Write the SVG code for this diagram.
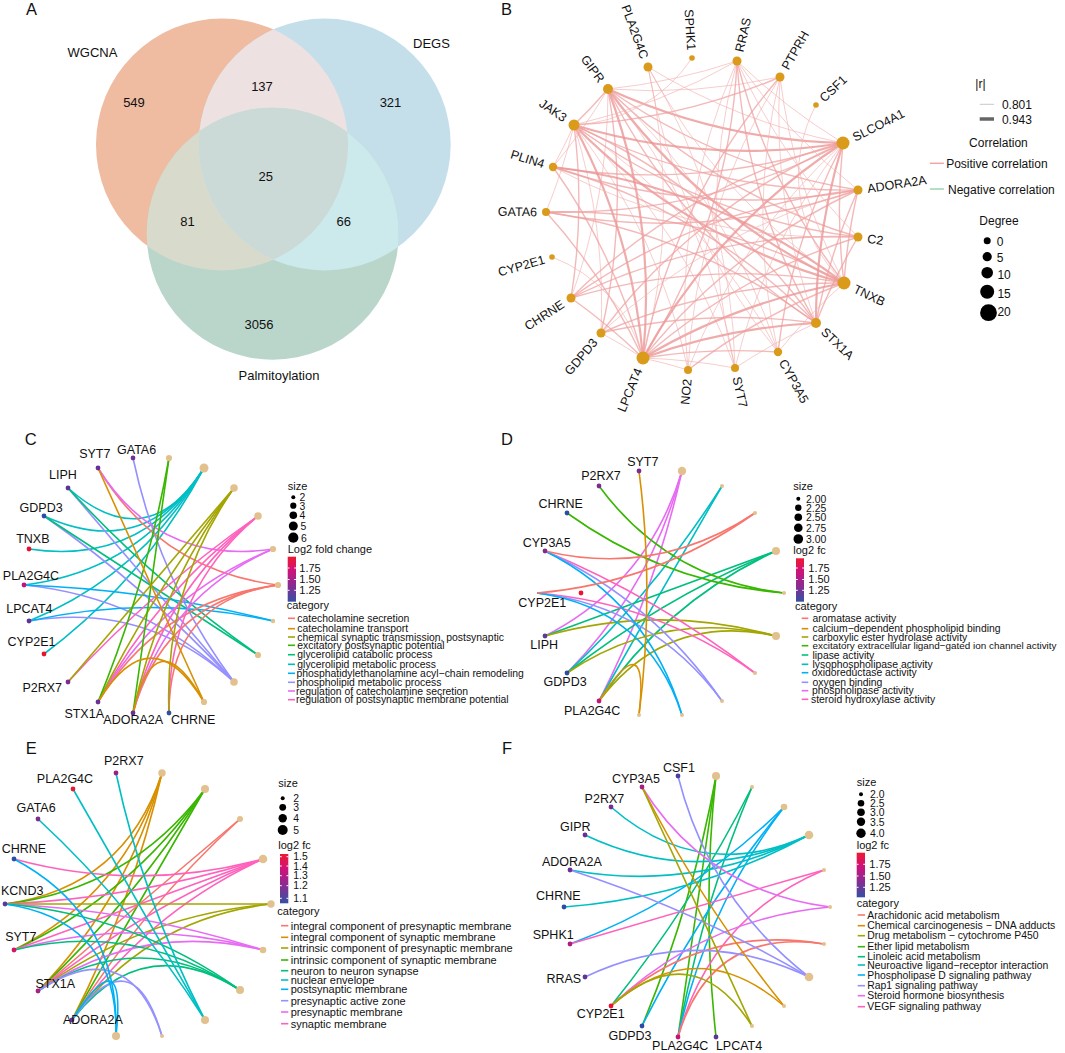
<svg xmlns="http://www.w3.org/2000/svg" width="1065" height="1053" viewBox="0 0 1065 1053">
<defs>
<style>
text{font-family:"Liberation Sans",Arial,sans-serif;fill:#111}
.pl{font-size:16.5px}
.venn{font-size:13px}
.lbl{font-size:12.5px}
.leg{font-size:11px}
.legs{font-size:10.4px}
.num{font-size:10.4px}
.lg12{font-size:12px}
.bn{fill:#DA9A1A}
.cat{fill:#E2C18F}
.b1{fill:none;stroke:#F2AFAF;stroke-width:0.9;opacity:0.7}
.b2{fill:none;stroke:#EE9E9E;stroke-width:1.4;opacity:0.72}
.b3{fill:none;stroke:#EC9494;stroke-width:2.2;opacity:0.78}
.ed path{fill:none;stroke-width:1.6}
.k1{stroke:#F8766D}.k2{stroke:#D89000}.k3{stroke:#A3A500}.k4{stroke:#39B600}.k5{stroke:#00BF7D}
.k6{stroke:#00BFC4}.k7{stroke:#00B0F6}.k8{stroke:#9590FF}.k9{stroke:#E76BF3}.k10{stroke:#FF62BC}
.dash{stroke-width:1.6}
.tick{stroke:#fff;stroke-width:1}
</style>
<linearGradient id="fc" x1="0" y1="0" x2="0" y2="1">
<stop offset="0" stop-color="#EE1A2F"/>
<stop offset="0.3" stop-color="#D0127A"/>
<stop offset="0.62" stop-color="#8E2A90"/>
<stop offset="1" stop-color="#3451A3"/>
</linearGradient>
<clipPath id="cW"><circle cx="222" cy="144.5" r="126"/></clipPath>
<clipPath id="cD"><circle cx="324.7" cy="144.5" r="126"/></clipPath>
<clipPath id="cP"><circle cx="272.7" cy="233.7" r="126"/></clipPath>
</defs>
<rect width="1065" height="1053" fill="#fff"/>

<!-- Panel A -->
<g id="panelA">
<text class="pl" x="26" y="15">A</text>
<g id="venn-WGCNA"><circle cx="222" cy="144.5" r="126" fill="#EFBBA1"/></g>
<g id="venn-DEGS"><circle cx="324.7" cy="144.5" r="126" fill="#C5DFEA"/></g>
<g id="venn-Palm"><circle cx="272.7" cy="233.7" r="126" fill="#BAD6CB"/></g>
<g clip-path="url(#cW)"><circle cx="324.7" cy="144.5" r="126" fill="#EEE1E1"/></g>
<g clip-path="url(#cW)"><circle cx="272.7" cy="233.7" r="126" fill="#D8DACB"/></g>
<g clip-path="url(#cD)"><circle cx="272.7" cy="233.7" r="126" fill="#CCE9EC"/></g>
<g clip-path="url(#cW)"><g clip-path="url(#cD)"><circle cx="272.7" cy="233.7" r="126" fill="#CBD9D7"/></g></g>
<text class="venn" x="67.6" y="56.7">WGCNA</text>
<text class="venn" x="413" y="47.7">DEGS</text>
<text class="venn" x="279" y="380" text-anchor="middle">Palmitoylation</text>
<text class="venn" x="134" y="106.7" text-anchor="middle">549</text>
<text class="venn" x="262" y="90.7" text-anchor="middle">137</text>
<text class="venn" x="390.5" y="106.7" text-anchor="middle">321</text>
<text class="venn" x="265.7" y="180.7" text-anchor="middle">25</text>
<text class="venn" x="187.6" y="226" text-anchor="middle">81</text>
<text class="venn" x="343.8" y="226" text-anchor="middle">66</text>
<text class="venn" x="259" y="329" text-anchor="middle">3056</text>
</g>

<!-- Panel B -->
<text class="pl" x="501" y="15">B</text>
<g id="B-connectors">
<path class="b3" d="M608,89 A600,600 0 0,0 843,143"/>
<path class="b2" d="M608,89 A600,600 0 0,0 858,190"/>
<path class="b2" d="M608,89 A600,600 0 0,0 858,237"/>
<path class="b3" d="M608,89 A600,600 0 0,0 844,283"/>
<path class="b2" d="M608,89 A600,600 0 0,0 816,323"/>
<path class="b1" d="M778,352 A600,600 0 0,0 608,89"/>
<path class="b3" d="M643,358 A600,600 0 0,0 608,89"/>
<path class="b2" d="M601,333 A600,600 0 0,0 608,89"/>
<path class="b1" d="M571,298 A600,600 0 0,0 608,89"/>
<path class="b1" d="M553,167 A600,600 0 0,0 608,89"/>
<path class="b2" d="M574,125 A600,600 0 0,0 608,89"/>
<path class="b1" d="M735,368 A600,600 0 0,0 608,89"/>
<path class="b1" d="M608,89 A600,600 0 0,0 737,61"/>
<path class="b1" d="M608,89 A600,600 0 0,0 780,77"/>
<path class="b3" d="M574,125 A600,600 0 0,0 843,143"/>
<path class="b2" d="M574,125 A600,600 0 0,0 858,190"/>
<path class="b2" d="M574,125 A600,600 0 0,0 858,237"/>
<path class="b3" d="M574,125 A600,600 0 0,0 844,283"/>
<path class="b2" d="M816,323 A600,600 0 0,0 574,125"/>
<path class="b3" d="M643,358 A600,600 0 0,0 574,125"/>
<path class="b1" d="M601,333 A600,600 0 0,0 574,125"/>
<path class="b2" d="M571,298 A600,600 0 0,0 574,125"/>
<path class="b1" d="M546,212 A600,600 0 0,0 574,125"/>
<path class="b1" d="M553,167 A600,600 0 0,0 574,125"/>
<path class="b1" d="M574,125 A600,600 0 0,0 737,61"/>
<path class="b2" d="M574,125 A600,600 0 0,0 780,77"/>
<path class="b1" d="M778,352 A600,600 0 0,0 574,125"/>
<path class="b1" d="M735,368 A600,600 0 0,0 574,125"/>
<path class="b1" d="M688,370 A600,600 0 0,0 574,125"/>
<path class="b3" d="M843,143 A600,600 0 0,0 643,358"/>
<path class="b2" d="M858,190 A600,600 0 0,0 643,358"/>
<path class="b2" d="M858,237 A600,600 0 0,0 643,358"/>
<path class="b3" d="M844,283 A600,600 0 0,0 643,358"/>
<path class="b3" d="M816,323 A600,600 0 0,0 643,358"/>
<path class="b2" d="M778,352 A600,600 0 0,0 643,358"/>
<path class="b1" d="M735,368 A600,600 0 0,0 643,358"/>
<path class="b1" d="M688,370 A600,600 0 0,0 643,358"/>
<path class="b1" d="M643,358 A600,600 0 0,0 601,333"/>
<path class="b2" d="M643,358 A600,600 0 0,0 571,298"/>
<path class="b2" d="M643,358 A600,600 0 0,0 546,212"/>
<path class="b2" d="M643,358 A600,600 0 0,0 553,167"/>
<path class="b2" d="M643,358 A600,600 0 0,0 737,61"/>
<path class="b2" d="M780,77 A600,600 0 0,0 643,358"/>
<path class="b1" d="M643,358 A600,600 0 0,0 648,67"/>
<path class="b2" d="M843,143 A600,600 0 0,0 844,283"/>
<path class="b3" d="M843,143 A600,600 0 0,0 816,323"/>
<path class="b2" d="M843,143 A600,600 0 0,0 778,352"/>
<path class="b1" d="M843,143 A600,600 0 0,0 688,370"/>
<path class="b2" d="M843,143 A600,600 0 0,0 601,333"/>
<path class="b2" d="M843,143 A600,600 0 0,0 571,298"/>
<path class="b2" d="M546,212 A600,600 0 0,0 843,143"/>
<path class="b2" d="M553,167 A600,600 0 0,0 843,143"/>
<path class="b1" d="M737,61 A600,600 0 0,0 843,143"/>
<path class="b1" d="M648,67 A600,600 0 0,0 843,143"/>
<path class="b1" d="M843,143 A600,600 0 0,0 735,368"/>
<path class="b2" d="M858,190 A600,600 0 0,0 844,283"/>
<path class="b2" d="M844,283 A600,600 0 0,0 688,370"/>
<path class="b2" d="M844,283 A600,600 0 0,0 601,333"/>
<path class="b2" d="M844,283 A600,600 0 0,0 571,298"/>
<path class="b2" d="M844,283 A600,600 0 0,0 546,212"/>
<path class="b3" d="M844,283 A600,600 0 0,0 553,167"/>
<path class="b2" d="M737,61 A600,600 0 0,0 844,283"/>
<path class="b1" d="M780,77 A600,600 0 0,0 844,283"/>
<path class="b1" d="M648,67 A600,600 0 0,0 844,283"/>
<path class="b1" d="M844,283 A600,600 0 0,0 778,352"/>
<path class="b2" d="M858,190 A600,600 0 0,0 816,323"/>
<path class="b2" d="M858,237 A600,600 0 0,0 816,323"/>
<path class="b2" d="M816,323 A600,600 0 0,0 601,333"/>
<path class="b2" d="M816,323 A600,600 0 0,0 546,212"/>
<path class="b2" d="M816,323 A600,600 0 0,0 553,167"/>
<path class="b2" d="M737,61 A600,600 0 0,0 816,323"/>
<path class="b1" d="M780,77 A600,600 0 0,0 816,323"/>
<path class="b1" d="M816,323 A600,600 0 0,0 735,368"/>
<path class="b1" d="M858,190 A600,600 0 0,0 601,333"/>
<path class="b2" d="M858,190 A600,600 0 0,0 571,298"/>
<path class="b2" d="M546,212 A600,600 0 0,0 858,190"/>
<path class="b2" d="M553,167 A600,600 0 0,0 858,190"/>
<path class="b1" d="M737,61 A600,600 0 0,0 858,190"/>
<path class="b1" d="M553,167 A600,600 0 0,0 858,237"/>
<path class="b1" d="M737,61 A600,600 0 0,0 858,237"/>
<path class="b2" d="M858,237 A600,600 0 0,0 571,298"/>
<path class="b1" d="M737,61 A600,600 0 0,0 688,370"/>
<path class="b1" d="M737,61 A600,600 0 0,0 735,368"/>
<path class="b1" d="M780,77 A600,600 0 0,0 688,370"/>
<path class="b1" d="M780,77 A600,600 0 0,0 778,352"/>
<path class="b1" d="M735,368 A600,600 0 0,0 648,67"/>
<path class="b1" d="M648,67 A600,600 0 0,0 778,352"/>
<path class="b1" d="M574,125 A150,150 0 0,0 692,58"/>
<path class="b1" d="M816,105 A150,150 0 0,0 844,283"/>
<path class="b1" d="M643,358 A150,150 0 0,0 552,257"/>
</g>
<g id="B-node-PLA2G4C"><circle class="bn" cx="648" cy="67" r="4.5"/><text class="lbl" transform="translate(644.7,58.1) rotate(69.8)" text-anchor="end" dy=".35em">PLA2G4C</text></g>
<g id="B-node-SPHK1"><circle class="bn" cx="692" cy="58" r="2.8"/><text class="lbl" transform="translate(691.5,50.2) rotate(86.3)" text-anchor="end" dy=".35em">SPHK1</text></g>
<g id="B-node-RRAS"><circle class="bn" cx="737" cy="61" r="4.5"/><text class="lbl" transform="translate(739.1,51.7) rotate(-77.1)" dy=".35em">RRAS</text></g>
<g id="B-node-PTPRH"><circle class="bn" cx="780" cy="77" r="4.5"/><text class="lbl" transform="translate(784.7,68.7) rotate(-60.3)" dy=".35em">PTPRH</text></g>
<g id="B-node-CSF1"><circle class="bn" cx="816" cy="105" r="2.8"/><text class="lbl" transform="translate(821.6,99.6) rotate(-43.7)" dy=".35em">CSF1</text></g>
<g id="B-node-SLCO4A1"><circle class="bn" cx="843" cy="143" r="6.5"/><text class="lbl" transform="translate(853.3,137.8) rotate(-26.7)" dy=".35em">SLCO4A1</text></g>
<g id="B-node-ADORA2A"><circle class="bn" cx="858" cy="190" r="4.5"/><text class="lbl" transform="translate(867.4,188.6) rotate(-8.7)" dy=".35em">ADORA2A</text></g>
<g id="B-node-C2"><circle class="bn" cx="858" cy="237" r="4.5"/><text class="lbl" transform="translate(867.4,238.4) rotate(8.4)" dy=".35em">C2</text></g>
<g id="B-node-TNXB"><circle class="bn" cx="844" cy="283" r="6.5"/><text class="lbl" transform="translate(854.3,288) rotate(25.9)" dy=".35em">TNXB</text></g>
<g id="B-node-STX1A"><circle class="bn" cx="816" cy="323" r="5"/><text class="lbl" transform="translate(823.2,329.9) rotate(43.7)" dy=".35em">STX1A</text></g>
<g id="B-node-CYP3A5"><circle class="bn" cx="778" cy="352" r="4.2"/><text class="lbl" transform="translate(782.4,360.1) rotate(61.2)" dy=".35em">CYP3A5</text></g>
<g id="B-node-SYT7"><circle class="bn" cx="735" cy="368" r="4"/><text class="lbl" transform="translate(736.9,376.8) rotate(77.9)" dy=".35em">SYT7</text></g>
<g id="B-node-NO2"><circle class="bn" cx="688" cy="370" r="4"/><text class="lbl" transform="translate(687.2,379) rotate(-84.9)" text-anchor="end" dy=".35em">NO2</text></g>
<g id="B-node-LPCAT4"><circle class="bn" cx="643" cy="358" r="6.5"/><text class="lbl" transform="translate(638.6,368.6) rotate(-67.7)" text-anchor="end" dy=".35em">LPCAT4</text></g>
<g id="B-node-GDPD3"><circle class="bn" cx="601" cy="333" r="4.5"/><text class="lbl" transform="translate(594.9,340.2) rotate(-49.7)" text-anchor="end" dy=".35em">GDPD3</text></g>
<g id="B-node-CHRNE"><circle class="bn" cx="571" cy="298" r="4.5"/><text class="lbl" transform="translate(563,303.1) rotate(-32.7)" text-anchor="end" dy=".35em">CHRNE</text></g>
<g id="B-node-CYP2E1"><circle class="bn" cx="552" cy="257" r="2.8"/><text class="lbl" transform="translate(544.5,259.2) rotate(-16)" text-anchor="end" dy=".35em">CYP2E1</text></g>
<g id="B-node-GATA6"><circle class="bn" cx="546" cy="212" r="4"/><text class="lbl" transform="translate(537,211.9) rotate(0.7)" text-anchor="end" dy=".35em">GATA6</text></g>
<g id="B-node-PLIN4"><circle class="bn" cx="553" cy="167" r="4.2"/><text class="lbl" transform="translate(544.2,164.2) rotate(17.5)" text-anchor="end" dy=".35em">PLIN4</text></g>
<g id="B-node-JAK3"><circle class="bn" cx="574" cy="125" r="5.5"/><text class="lbl" transform="translate(565.4,119) rotate(34.8)" text-anchor="end" dy=".35em">JAK3</text></g>
<g id="B-node-GIPR"><circle class="bn" cx="608" cy="89" r="5"/><text class="lbl" transform="translate(602,81) rotate(53.1)" text-anchor="end" dy=".35em">GIPR</text></g>
<g id="B-legend">
<text class="lg12" x="980.4" y="88.3" text-anchor="middle">|r|</text>
<line x1="979.7" y1="104.3" x2="994" y2="104.3" stroke="#c9c9c9" stroke-width="1"/>
<text class="lg12" x="1001.9" y="109">0.801</text>
<line x1="979.7" y1="119" x2="994" y2="119" stroke="#666" stroke-width="3.5"/>
<text class="lg12" x="1001.9" y="124">0.943</text>
<text class="lg12" x="998.4" y="146.7" text-anchor="middle">Correlation</text>
<line x1="929.9" y1="163.3" x2="943.9" y2="163.3" stroke="#F2A5A5" stroke-width="1.5"/>
<text class="lg12" x="946.2" y="168.3">Positive correlation</text>
<line x1="929.9" y1="189" x2="943.9" y2="189" stroke="#66C28A" stroke-width="1"/>
<text class="lg12" x="948" y="194.3">Negative correlation</text>
<text class="lg12" x="999" y="225" text-anchor="middle">Degree</text>
<circle cx="987.2" cy="240.7" r="3.5" fill="#000"/>
<circle cx="987.2" cy="256.7" r="4.6" fill="#000"/>
<circle cx="987.2" cy="272.7" r="5.8" fill="#000"/>
<circle cx="987.2" cy="291.7" r="7" fill="#000"/>
<circle cx="988.5" cy="312.7" r="8.4" fill="#000"/>
<text class="lg12" x="996.7" y="246">0</text>
<text class="lg12" x="996.7" y="261.7">5</text>
<text class="lg12" x="997.4" y="279.3">10</text>
<text class="lg12" x="997.4" y="297.7">15</text>
<text class="lg12" x="997.4" y="316">20</text>
</g>

<!-- Panel C -->
<text class="pl" x="24.8" y="445">C</text>
<g id="C-connectors" class="ed">
<path class="k6" d="M68,488 Q147.3,558.3 204,468"/>
<path class="k6" d="M44,516 Q144.3,561.8 204,468"/>
<path class="k6" d="M29,549 Q142.4,565.9 204,468"/>
<path class="k6" d="M24,585 Q141.8,570.4 204,468"/>
<path class="k6" d="M29,621 Q142.4,574.9 204,468"/>
<path class="k6" d="M44,654 Q144.3,579 204,468"/>
<path class="k8" d="M133,458 Q159.1,581.3 234,682"/>
<path class="k8" d="M68,488 Q151,585 234,682"/>
<path class="k8" d="M44,516 Q148,588.5 234,682"/>
<path class="k8" d="M24,585 Q145.5,597.1 234,682"/>
<path class="k8" d="M29,621 Q146.1,601.6 234,682"/>
<path class="k5" d="M44,516 Q151,585.1 258,655"/>
<path class="k5" d="M68,488 Q154,581.6 258,655"/>
<path class="k7" d="M24,585 Q150.4,589.5 273,621"/>
<path class="k7" d="M29,621 Q151,594 273,621"/>
<path class="k1" d="M98,468 Q160.3,570.4 278,585"/>
<path class="k1" d="M98,702 Q160.3,599.6 278,585"/>
<path class="k1" d="M133,713 Q164.6,601 278,585"/>
<path class="k1" d="M169,713 Q169.1,601 278,585"/>
<path class="k9" d="M98,468 Q159.6,565.9 273,549"/>
<path class="k9" d="M98,702 Q159.6,595.1 273,549"/>
<path class="k9" d="M133,713 Q164,596.5 273,549"/>
<path class="k10" d="M68,682 Q154,588.5 258,516"/>
<path class="k10" d="M98,702 Q157.75,591 258,516"/>
<path class="k10" d="M133,713 Q162.1,592.4 258,516"/>
<path class="k10" d="M169,713 Q166.6,592.4 258,516"/>
<path class="k3" d="M98,702 Q154.75,587.5 234,488"/>
<path class="k3" d="M133,713 Q159.1,588.9 234,488"/>
<path class="k3" d="M169,713 Q163.6,588.9 234,488"/>
<path class="k3" d="M68,682 Q151,585 234,488"/>
<path class="k4" d="M98,702 Q146.6,583.75 169,458"/>
<path class="k4" d="M133,713 Q151,585.1 169,458"/>
<path class="k2" d="M98,468 Q151,585 204,702"/>
<path class="k2" d="M98,702 Q151,614.25 204,702"/>
<path class="k2" d="M133,713 Q155.4,615.6 204,702"/>
</g>
<g id="C-cat-1"><circle class="cat" cx="169" cy="458" r="3.1"/></g>
<g id="C-cat-2"><circle class="cat" cx="204" cy="468" r="4.5"/></g>
<g id="C-cat-3"><circle class="cat" cx="234" cy="488" r="3.8"/></g>
<g id="C-cat-4"><circle class="cat" cx="258" cy="516" r="3.8"/></g>
<g id="C-cat-5"><circle class="cat" cx="273" cy="549" r="3.1"/></g>
<g id="C-cat-6"><circle class="cat" cx="278" cy="585" r="3.1"/></g>
<g id="C-cat-7"><circle class="cat" cx="273" cy="621" r="2.2"/></g>
<g id="C-cat-8"><circle class="cat" cx="258" cy="655" r="3.1"/></g>
<g id="C-cat-9"><circle class="cat" cx="234" cy="682" r="3.8"/></g>
<g id="C-cat-10"><circle class="cat" cx="204" cy="702" r="3.1"/></g>
<g id="C-SYT7"><circle cx="98" cy="468" r="2.4" fill="#6A2E9A"/><text class="lbl" x="79.2" y="458.3">SYT7</text></g>
<g id="C-GATA6"><circle cx="133" cy="458" r="2.4" fill="#6B3396"/><text class="lbl" x="117" y="454.3">GATA6</text></g>
<g id="C-LIPH"><circle cx="68" cy="488" r="2.4" fill="#5B3596"/><text class="lbl" x="49" y="479.3">LIPH</text></g>
<g id="C-GDPD3"><circle cx="44" cy="516" r="2.4" fill="#2C4DA3"/><text class="lbl" x="19.6" y="512.3">GDPD3</text></g>
<g id="C-TNXB"><circle cx="29" cy="549" r="2.4" fill="#E8112D"/><text class="lbl" x="16.2" y="543.3">TNXB</text></g>
<g id="C-PLA2G4C"><circle cx="24" cy="585" r="2.4" fill="#C4127D"/><text class="lbl" x="2.8" y="580">PLA2G4C</text></g>
<g id="C-LPCAT4"><circle cx="29" cy="621" r="2.4" fill="#5E3494"/><text class="lbl" x="6.2" y="612.7">LPCAT4</text></g>
<g id="C-CYP2E1"><circle cx="44" cy="654" r="2.4" fill="#E8142C"/><text class="lbl" x="7.6" y="646">CYP2E1</text></g>
<g id="C-P2RX7"><circle cx="68" cy="682" r="2.4" fill="#7B2C91"/><text class="lbl" x="22.4" y="691.7">P2RX7</text></g>
<g id="C-STX1A"><circle cx="98" cy="702" r="2.4" fill="#6A3096"/><text class="lbl" x="64.4" y="717.7">STX1A</text></g>
<g id="C-ADORA2A"><circle cx="133" cy="713" r="2.4" fill="#6A2E98"/><text class="lbl" x="103.3" y="724">ADORA2A</text></g>
<g id="C-CHRNE"><circle cx="169" cy="713" r="2.4" fill="#2E4FA3"/><text class="lbl" x="171" y="724">CHRNE</text></g>
<g id="C-legend">
<text class="leg" x="287.7" y="490">size</text>
<circle cx="293.3" cy="497.3" r="2"/><circle cx="293.3" cy="505.7" r="3.1"/><circle cx="293.3" cy="515.3" r="3.8"/><circle cx="293.3" cy="526" r="4.5"/><circle cx="293.3" cy="537.7" r="5.1"/>
<text class="num" x="299.5" y="501.3">2</text><text class="num" x="299.5" y="509.7">3</text><text class="num" x="299.5" y="519.3">4</text><text class="num" x="300.5" y="530">5</text><text class="num" x="301" y="541.7">6</text>
<text class="leg" x="287.7" y="553.3">Log2 fold change</text>
<rect x="287.7" y="556.7" width="8.3" height="45" fill="url(#fc)"/>
<line class="tick" x1="287.7" y1="568" x2="289.5" y2="568"/><line class="tick" x1="294.2" y1="568" x2="296" y2="568"/>
<line class="tick" x1="287.7" y1="579.5" x2="289.5" y2="579.5"/><line class="tick" x1="294.2" y1="579.5" x2="296" y2="579.5"/>
<line class="tick" x1="287.7" y1="590.3" x2="289.5" y2="590.3"/><line class="tick" x1="294.2" y1="590.3" x2="296" y2="590.3"/>
<text class="leg" x="299.3" y="571.7">1.75</text><text class="leg" x="299.3" y="583.3">1.50</text><text class="leg" x="299.3" y="594">1.25</text>
<text class="leg" x="286.7" y="609.3">category</text>
<line class="dash k1" x1="288" y1="618.3" x2="295" y2="618.3"/><text class="legs" x="297.3" y="622">catecholamine secretion</text>
<line class="dash k2" x1="288" y1="628.7" x2="295" y2="628.7"/><text class="legs" x="297.3" y="632.4">catecholamine transport</text>
<line class="dash k3" x1="288" y1="637" x2="295" y2="637"/><text class="legs" x="297.3" y="640.7">chemical synaptic transmission, postsynaptic</text>
<line class="dash k4" x1="288" y1="645.3" x2="295" y2="645.3"/><text class="legs" x="297.3" y="649">excitatory postsynaptic potential</text>
<line class="dash k5" x1="288" y1="654.7" x2="295" y2="654.7"/><text class="legs" x="297.3" y="658.4">glycerolipid catabolic process</text>
<line class="dash k6" x1="288" y1="664.3" x2="295" y2="664.3"/><text class="legs" x="297.3" y="668">glycerolipid metabolic process</text>
<line class="dash k7" x1="288" y1="673.3" x2="295" y2="673.3"/><text class="legs" x="296.5" y="677">phosphatidylethanolamine acyl−chain remodeling</text>
<line class="dash k8" x1="288" y1="682.3" x2="295" y2="682.3"/><text class="legs" x="296.5" y="686">phospholipid metabolic process</text>
<line class="dash k9" x1="288" y1="691" x2="295" y2="691"/><text class="legs" x="296" y="694.7">regulation of catecholamine secretion</text>
<line class="dash k10" x1="288" y1="699.7" x2="295" y2="699.7"/><text class="legs" x="296" y="703.4">regulation of postsynaptic membrane potential</text>
</g>

<!-- Panel D -->
<text class="pl" x="501" y="445">D</text>
<g id="D-connectors" class="ed">
<path class="k9" d="M545,636 Q648.4,583.1 682,471"/>
<path class="k9" d="M567,673 Q651.1,587.75 682,471"/>
<path class="k9" d="M599,701 Q655.1,591.25 682,471"/>
<path class="k6" d="M567,673 Q656.1,589.6 722,486"/>
<path class="k6" d="M599,701 Q660.1,593.1 722,486"/>
<path class="k5" d="M545,636 Q660.1,593.1 776,551"/>
<path class="k5" d="M567,673 Q662.9,597.75 776,551"/>
<path class="k5" d="M599,701 Q666.9,601.25 776,551"/>
<path class="k4" d="M567,513 Q663.9,583 784,593"/>
<path class="k4" d="M599,486 Q667.9,579.6 784,593"/>
<path class="k3" d="M545,636 Q660.1,603.75 776,636"/>
<path class="k3" d="M567,673 Q662.9,608.4 776,636"/>
<path class="k3" d="M599,701 Q666.9,611.9 776,636"/>
<path class="k10" d="M545,551 Q657.5,597.75 755,673"/>
<path class="k10" d="M537,593 Q656.5,603 755,673"/>
<path class="k8" d="M545,551 Q653.4,601.25 722,701"/>
<path class="k8" d="M537,593 Q652.4,606.5 722,701"/>
<path class="k7" d="M545,551 Q648.4,603 682,715"/>
<path class="k7" d="M537,593 Q647.4,608.25 682,715"/>
<path class="k1" d="M545,551 Q657.5,577.75 755,513"/>
<path class="k1" d="M537,593 Q656.5,583 755,513"/>
<path class="k2" d="M639,471 Q654.75,593 639,715"/>
<path class="k2" d="M599,701 Q649.75,621.75 639,715"/>
</g>
<g id="D-cat-1"><circle class="cat" cx="682" cy="471" r="4.2"/></g>
<g id="D-cat-2"><circle class="cat" cx="722" cy="486" r="2"/></g>
<g id="D-cat-3"><circle class="cat" cx="755" cy="513" r="2"/></g>
<g id="D-cat-4"><circle class="cat" cx="776" cy="551" r="4"/></g>
<g id="D-cat-5"><circle class="cat" cx="784" cy="593" r="2"/></g>
<g id="D-cat-6"><circle class="cat" cx="776" cy="636" r="4"/></g>
<g id="D-cat-7"><circle class="cat" cx="755" cy="673" r="2"/></g>
<g id="D-cat-8"><circle class="cat" cx="722" cy="701" r="2"/></g>
<g id="D-cat-9"><circle class="cat" cx="682" cy="715" r="2"/></g>
<g id="D-cat-10"><circle class="cat" cx="639" cy="715" r="2"/></g>
<g id="D-SYT7"><circle cx="639" cy="471" r="2.4" fill="#7A2C93"/><text class="lbl" x="627.2" y="466">SYT7</text></g>
<g id="D-P2RX7"><circle cx="599" cy="486" r="2.4" fill="#7A2C93"/><text class="lbl" x="581.2" y="480">P2RX7</text></g>
<g id="D-CHRNE"><circle cx="567" cy="513" r="2.4" fill="#2C4DA6"/><text class="lbl" x="538.5" y="508">CHRNE</text></g>
<g id="D-CYP3A5"><circle cx="545" cy="551" r="2.4" fill="#862A8E"/><text class="lbl" x="522.7" y="546.7">CYP3A5</text></g>
<g id="D-CYP2E1"><circle cx="581" cy="593" r="2.4" fill="#EE1230"/><text class="lbl" x="518.3" y="606.7">CYP2E1</text></g>
<g id="D-LIPH"><circle cx="545" cy="636" r="2.4" fill="#5B3A98"/><text class="lbl" x="530.3" y="649.3">LIPH</text></g>
<g id="D-GDPD3"><circle cx="567" cy="673" r="2.4" fill="#2F4BA2"/><text class="lbl" x="543.6" y="686">GDPD3</text></g>
<g id="D-PLA2G4C"><circle cx="599" cy="701" r="2.4" fill="#C8127A"/><text class="lbl" x="564" y="715">PLA2G4C</text></g>
<g id="D-legend">
<text class="leg" x="793.3" y="490">size</text>
<circle cx="798.3" cy="498.7" r="2"/><circle cx="798.3" cy="507.7" r="3.2"/><circle cx="798.3" cy="517.3" r="3.8"/><circle cx="798.3" cy="527.7" r="4.3"/><circle cx="798.3" cy="539" r="4.8"/>
<text class="num" x="806" y="502.7">2.00</text><text class="num" x="806" y="511.5">2.25</text><text class="num" x="806" y="521.3">2.50</text><text class="num" x="806" y="531.5">2.75</text><text class="num" x="806" y="543">3.00</text>
<text class="leg" x="793.3" y="554">log2 fc</text>
<rect x="796" y="558.3" width="8" height="43.4" fill="url(#fc)"/>
<line class="tick" x1="796" y1="568" x2="797.8" y2="568"/><line class="tick" x1="802.2" y1="568" x2="804" y2="568"/>
<line class="tick" x1="796" y1="579.5" x2="797.8" y2="579.5"/><line class="tick" x1="802.2" y1="579.5" x2="804" y2="579.5"/>
<line class="tick" x1="796" y1="590.3" x2="797.8" y2="590.3"/><line class="tick" x1="802.2" y1="590.3" x2="804" y2="590.3"/>
<text class="leg" x="808.3" y="571.7">1.75</text><text class="leg" x="808.3" y="583.3">1.50</text><text class="leg" x="808.3" y="594">1.25</text>
<text class="leg" x="795" y="610">category</text>
<line class="dash k1" x1="801.7" y1="618.3" x2="808.3" y2="618.3"/><text class="legs" x="812.5" y="622">aromatase activity</text>
<line class="dash k2" x1="801.7" y1="628.7" x2="808.3" y2="628.7"/><text class="legs" x="812.5" y="632.4">calcium−dependent phospholipid binding</text>
<line class="dash k3" x1="801.7" y1="637" x2="808.3" y2="637"/><text class="legs" x="812.5" y="640.7">carboxylic ester hydrolase activity</text>
<line class="dash k4" x1="801.7" y1="645.7" x2="808.3" y2="645.7"/><text x="812.5" y="649.3" font-size="9.9">excitatory extracellular ligand−gated ion channel activity</text>
<line class="dash k5" x1="801.7" y1="655" x2="808.3" y2="655"/><text class="legs" x="812.5" y="658.7">lipase activity</text>
<line class="dash k6" x1="801.7" y1="664.3" x2="808.3" y2="664.3"/><text class="legs" x="812.5" y="668">lysophospholipase activity</text>
<line class="dash k7" x1="801.7" y1="672.7" x2="808.3" y2="672.7"/><text class="legs" x="811.7" y="676.4">oxidoreductase activity</text>
<line class="dash k8" x1="801.7" y1="682.3" x2="808.3" y2="682.3"/><text class="legs" x="812.5" y="686">oxygen binding</text>
<line class="dash k9" x1="801.7" y1="690.7" x2="808.3" y2="690.7"/><text class="legs" x="812" y="694.4">phospholipase activity</text>
<line class="dash k10" x1="801.7" y1="699.3" x2="808.3" y2="699.3"/><text class="legs" x="811" y="703">steroid hydroxylase activity</text>
</g>

<!-- Panel E -->
<text class="pl" x="25.8" y="754.3">E</text>
<g id="E-connectors" class="ed">
<path class="k2" d="M5,904 Q124.4,887.6 162,773"/>
<path class="k2" d="M14,950 Q125.5,893.4 162,773"/>
<path class="k2" d="M38,991 Q128.5,898.5 162,773"/>
<path class="k2" d="M72,1020 Q132.75,902.1 162,773"/>
<path class="k4" d="M5,904 Q129.75,889.6 205,789"/>
<path class="k4" d="M14,950 Q130.9,895.4 205,789"/>
<path class="k4" d="M38,991 Q133.9,900.5 205,789"/>
<path class="k4" d="M72,1020 Q138.1,904.1 205,789"/>
<path class="k1" d="M38,991 Q138.25,904.25 240,819"/>
<path class="k1" d="M72,1020 Q142.5,907.9 240,819"/>
<path class="k10" d="M14,859 Q138.1,892.75 263,859"/>
<path class="k10" d="M5,904 Q137,898.4 263,859"/>
<path class="k10" d="M14,950 Q138.1,904.1 263,859"/>
<path class="k10" d="M38,991 Q141.1,909.25 263,859"/>
<path class="k10" d="M72,1020 Q145.4,912.9 263,859"/>
<path class="k3" d="M5,904 Q138,904 271,904"/>
<path class="k3" d="M38,991 Q142.1,914.9 271,904"/>
<path class="k3" d="M72,1020 Q146.4,918.5 271,904"/>
<path class="k9" d="M5,904 Q137,909.75 263,950"/>
<path class="k9" d="M14,950 Q138.1,915.5 263,950"/>
<path class="k9" d="M38,991 Q141.1,920.6 263,950"/>
<path class="k5" d="M5,904 Q134.1,914.75 240,990"/>
<path class="k5" d="M14,950 Q135.25,920.5 240,990"/>
<path class="k5" d="M38,991 Q138.25,925.6 240,990"/>
<path class="k5" d="M72,1020 Q142.5,929.25 240,990"/>
<path class="k6" d="M38,819 Q133.9,907.9 205,1020"/>
<path class="k6" d="M73,789 Q138.25,904.1 205,1020"/>
<path class="k6" d="M116,773 Q143.6,902.1 205,1020"/>
<path class="k8" d="M38,991 Q128.5,931.4 162,1036"/>
<path class="k8" d="M72,1020 Q132.75,935 162,1036"/>
<path class="k7" d="M14,859 Q119.75,914.9 116,1036"/>
<path class="k7" d="M5,904 Q118.6,920.5 116,1036"/>
<path class="k7" d="M72,1020 Q127,935 116,1036"/>
</g>
<g id="E-cat-1"><circle class="cat" cx="116" cy="1036" r="4"/></g>
<g id="E-cat-2"><circle class="cat" cx="162" cy="1036" r="2"/></g>
<g id="E-cat-3"><circle class="cat" cx="205" cy="1020" r="4"/></g>
<g id="E-cat-4"><circle class="cat" cx="240" cy="990" r="4"/></g>
<g id="E-cat-5"><circle class="cat" cx="263" cy="950" r="3.3"/></g>
<g id="E-cat-6"><circle class="cat" cx="271" cy="904" r="3.7"/></g>
<g id="E-cat-7"><circle class="cat" cx="263" cy="859" r="4.3"/></g>
<g id="E-cat-8"><circle class="cat" cx="240" cy="819" r="3"/></g>
<g id="E-cat-9"><circle class="cat" cx="205" cy="789" r="4"/></g>
<g id="E-cat-10"><circle class="cat" cx="162" cy="773" r="3.7"/></g>
<g id="E-P2RX7"><circle cx="116" cy="773" r="2.4" fill="#9C1F85"/><text class="lbl" x="104" y="765">P2RX7</text></g>
<g id="E-PLA2G4C"><circle cx="73" cy="789" r="2.4" fill="#E51A35"/><text class="lbl" x="36.8" y="782.7">PLA2G4C</text></g>
<g id="E-GATA6"><circle cx="38" cy="819" r="2.4" fill="#7A2C93"/><text class="lbl" x="16.5" y="812">GATA6</text></g>
<g id="E-CHRNE"><circle cx="14" cy="859" r="2.4" fill="#2B4FA6"/><text class="lbl" x="1.7" y="853.3">CHRNE</text></g>
<g id="E-KCND3"><circle cx="5" cy="904" r="2.4" fill="#5A3A99"/><text class="lbl" x="1" y="895">KCND3</text></g>
<g id="E-SYT7"><circle cx="14" cy="950" r="2.4" fill="#D11562"/><text class="lbl" x="5.2" y="941">SYT7</text></g>
<g id="E-STX1A"><circle cx="38" cy="991" r="2.4" fill="#A71E84"/><text class="lbl" x="35.5" y="988.3">STX1A</text></g>
<g id="E-ADORA2A"><circle cx="72" cy="1020" r="2.4" fill="#6C3196"/><text class="lbl" x="63" y="1024.3">ADORA2A</text></g>
<g id="E-legend">
<text class="leg" x="278.3" y="786.7">size</text>
<circle cx="282.7" cy="798.3" r="2"/><circle cx="282.7" cy="807.3" r="3.4"/><circle cx="282.7" cy="818.3" r="4.2"/><circle cx="282.7" cy="830" r="5"/>
<text class="num" x="293.3" y="802">2</text><text class="num" x="293.3" y="811">3</text><text class="num" x="293.3" y="822">4</text><text class="num" x="293.3" y="834">5</text>
<text class="leg" x="278.3" y="849.3">log2 fc</text>
<rect x="280" y="854" width="8.3" height="49.3" fill="url(#fc)"/>
<line class="tick" x1="280" y1="856.7" x2="281.8" y2="856.7"/><line class="tick" x1="286.5" y1="856.7" x2="288.3" y2="856.7"/>
<line class="tick" x1="280" y1="866" x2="281.8" y2="866"/><line class="tick" x1="286.5" y1="866" x2="288.3" y2="866"/>
<line class="tick" x1="280" y1="875.7" x2="281.8" y2="875.7"/><line class="tick" x1="286.5" y1="875.7" x2="288.3" y2="875.7"/>
<line class="tick" x1="280" y1="885.7" x2="281.8" y2="885.7"/><line class="tick" x1="286.5" y1="885.7" x2="288.3" y2="885.7"/>
<line class="tick" x1="280" y1="898.3" x2="281.8" y2="898.3"/><line class="tick" x1="286.5" y1="898.3" x2="288.3" y2="898.3"/>
<text class="num" x="293.3" y="860">1.5</text><text class="num" x="293.3" y="869.5">1.4</text><text class="num" x="293.3" y="879">1.3</text><text class="num" x="293.3" y="889">1.2</text><text class="num" x="293.3" y="901.7">1.1</text>
<text class="leg" x="277.3" y="915">category</text>
<line class="dash k1" x1="281" y1="925.7" x2="288.3" y2="925.7"/><text class="leg" x="290.7" y="929.5">integral component of presynaptic membrane</text>
<line class="dash k2" x1="281" y1="937.3" x2="288.3" y2="937.3"/><text class="leg" x="290.7" y="941.1">integral component of synaptic membrane</text>
<line class="dash k3" x1="281" y1="948" x2="288.3" y2="948"/><text class="leg" x="290.7" y="951.8">intrinsic component of presynaptic membrane</text>
<line class="dash k4" x1="281" y1="960" x2="288.3" y2="960"/><text class="leg" x="290.7" y="963.8">intrinsic component of synaptic membrane</text>
<line class="dash k5" x1="281" y1="970.7" x2="288.3" y2="970.7"/><text class="leg" x="290.7" y="974.5">neuron to neuron synapse</text>
<line class="dash k6" x1="281" y1="980" x2="288.3" y2="980"/><text class="leg" x="290.7" y="983.8">nuclear envelope</text>
<line class="dash k7" x1="281" y1="989.3" x2="288.3" y2="989.3"/><text class="leg" x="290.7" y="993.1">postsynaptic membrane</text>
<line class="dash k8" x1="281" y1="1000.7" x2="288.3" y2="1000.7"/><text class="leg" x="290.7" y="1004.5">presynaptic active zone</text>
<line class="dash k9" x1="281" y1="1012" x2="288.3" y2="1012"/><text class="leg" x="290.7" y="1015.8">presynaptic membrane</text>
<line class="dash k10" x1="281" y1="1023.7" x2="288.3" y2="1023.7"/><text class="leg" x="290.7" y="1027.5">synaptic membrane</text>
</g>

<!-- Panel F -->
<text class="pl" x="502" y="754.3">F</text>
<g id="F-connectors" class="ed">
<path class="k4" d="M642,1026 Q692.5,904.75 716,776"/>
<path class="k4" d="M716,1037 Q701.75,906.1 716,776"/>
<path class="k4" d="M678,1037 Q697,906.1 716,776"/>
<path class="k5" d="M678,1037 Q701.5,907.5 752,787"/>
<path class="k5" d="M611,1006 Q693.1,903.6 752,787"/>
<path class="k7" d="M678,1037 Q705.5,910 784,807"/>
<path class="k7" d="M642,1026 Q701,908.6 784,807"/>
<path class="k7" d="M570,944 Q692,898.4 784,807"/>
<path class="k6" d="M611,807 Q700.25,884.75 809,835"/>
<path class="k6" d="M585,835 Q697,888.25 809,835"/>
<path class="k6" d="M570,870 Q695.1,892.6 809,835"/>
<path class="k6" d="M564,907 Q694.4,897.25 809,835"/>
<path class="k10" d="M570,944 Q697,906.25 824,870"/>
<path class="k10" d="M678,1037 Q710.5,917.9 824,870"/>
<path class="k9" d="M642,787 Q706.75,891.25 830,907"/>
<path class="k9" d="M611,1006 Q702.9,918.6 830,907"/>
<path class="k1" d="M611,1006 Q702.1,923.25 824,944"/>
<path class="k1" d="M678,1037 Q710.5,927.1 824,944"/>
<path class="k8" d="M678,776 Q708.6,898.6 809,977"/>
<path class="k8" d="M570,870 Q695.1,910.4 809,977"/>
<path class="k8" d="M585,977 Q697,923.75 809,977"/>
<path class="k2" d="M642,787 Q701,903.6 784,1006"/>
<path class="k2" d="M611,1006 Q697.1,931 784,1006"/>
<path class="k3" d="M642,787 Q697,906.1 752,1026"/>
<path class="k3" d="M611,1006 Q693.1,933.5 752,1026"/>
</g>
<g id="F-cat-1"><circle class="cat" cx="716" cy="776" r="4"/></g>
<g id="F-cat-2"><circle class="cat" cx="752" cy="787" r="2"/></g>
<g id="F-cat-3"><circle class="cat" cx="784" cy="807" r="3.3"/></g>
<g id="F-cat-4"><circle class="cat" cx="809" cy="835" r="4.3"/></g>
<g id="F-cat-5"><circle class="cat" cx="824" cy="870" r="2"/></g>
<g id="F-cat-6"><circle class="cat" cx="830" cy="907" r="2"/></g>
<g id="F-cat-7"><circle class="cat" cx="824" cy="944" r="2"/></g>
<g id="F-cat-8"><circle class="cat" cx="809" cy="977" r="4.3"/></g>
<g id="F-cat-9"><circle class="cat" cx="784" cy="1006" r="2"/></g>
<g id="F-cat-10"><circle class="cat" cx="752" cy="1026" r="2"/></g>
<g id="F-CSF1"><circle cx="678" cy="776" r="2.4" fill="#4B3E9E"/><text class="lbl" x="663" y="772.3">CSF1</text></g>
<g id="F-CYP3A5"><circle cx="642" cy="787" r="2.4" fill="#A61E86"/><text class="lbl" x="611.9" y="783.3">CYP3A5</text></g>
<g id="F-P2RX7"><circle cx="611" cy="807" r="2.4" fill="#7A2C93"/><text class="lbl" x="584.6" y="803.3">P2RX7</text></g>
<g id="F-GIPR"><circle cx="585" cy="835" r="2.4" fill="#6A2E98"/><text class="lbl" x="560" y="831">GIPR</text></g>
<g id="F-ADORA2A"><circle cx="570" cy="870" r="2.4" fill="#6A3096"/><text class="lbl" x="542" y="865.7">ADORA2A</text></g>
<g id="F-CHRNE"><circle cx="564" cy="907" r="2.4" fill="#2B4DA6"/><text class="lbl" x="536.1" y="900">CHRNE</text></g>
<g id="F-SPHK1"><circle cx="570" cy="944" r="2.4" fill="#AC1D82"/><text class="lbl" x="532.7" y="939.3">SPHK1</text></g>
<g id="F-RRAS"><circle cx="585" cy="977" r="2.4" fill="#623296"/><text class="lbl" x="546.4" y="982.7">RRAS</text></g>
<g id="F-CYP2E1"><circle cx="611" cy="1006" r="2.4" fill="#EE1230"/><text class="lbl" x="576.7" y="1017.7">CYP2E1</text></g>
<g id="F-GDPD3"><circle cx="642" cy="1026" r="2.4" fill="#2B4DA6"/><text class="lbl" x="608.5" y="1040">GDPD3</text></g>
<g id="F-PLA2G4C"><circle cx="678" cy="1037" r="2.4" fill="#C8127A"/><text class="lbl" x="652.1" y="1050">PLA2G4C</text></g>
<g id="F-LPCAT4"><circle cx="716" cy="1037" r="2.4" fill="#5E3494"/><text class="lbl" x="715.9" y="1050">LPCAT4</text></g>
<g id="F-legend">
<text class="leg" x="856.7" y="786">size</text>
<circle cx="861" cy="794.3" r="2"/><circle cx="861" cy="803.3" r="3.3"/><circle cx="861" cy="812.3" r="3.8"/><circle cx="861" cy="821.7" r="4.2"/><circle cx="861" cy="833.3" r="4.7"/>
<text class="num" x="870" y="798">2.0</text><text class="num" x="870" y="807.3">2.5</text><text class="num" x="870" y="816.3">3.0</text><text class="num" x="870" y="825.7">3.5</text><text class="num" x="870" y="837">4.0</text>
<text class="leg" x="856.7" y="849">log2 fc</text>
<rect x="856.7" y="852.7" width="8.3" height="44.6" fill="url(#fc)"/>
<line class="tick" x1="856.7" y1="864.3" x2="858.5" y2="864.3"/><line class="tick" x1="863.2" y1="864.3" x2="865" y2="864.3"/>
<line class="tick" x1="856.7" y1="876" x2="858.5" y2="876"/><line class="tick" x1="863.2" y1="876" x2="865" y2="876"/>
<line class="tick" x1="856.7" y1="887.3" x2="858.5" y2="887.3"/><line class="tick" x1="863.2" y1="887.3" x2="865" y2="887.3"/>
<text class="leg" x="869.3" y="868">1.75</text><text class="leg" x="869.3" y="880">1.50</text><text class="leg" x="869.3" y="891">1.25</text>
<text class="leg" x="856.7" y="906.7">category</text>
<line class="dash k1" x1="857.7" y1="915" x2="865" y2="915"/><text class="legs" x="867.3" y="918.7">Arachidonic acid metabolism</text>
<line class="dash k2" x1="857.7" y1="925.7" x2="865" y2="925.7"/><text class="legs" x="867.3" y="929.4">Chemical carcinogenesis − DNA adducts</text>
<line class="dash k3" x1="857.7" y1="935.7" x2="865" y2="935.7"/><text class="legs" x="867.3" y="939.4">Drug metabolism − cytochrome P450</text>
<line class="dash k4" x1="857.7" y1="946.7" x2="865" y2="946.7"/><text class="legs" x="867.3" y="950.4">Ether lipid metabolism</text>
<line class="dash k5" x1="857.7" y1="956.7" x2="865" y2="956.7"/><text class="legs" x="867.3" y="960.4">Linoleic acid metabolism</text>
<line class="dash k6" x1="857.7" y1="965" x2="865" y2="965"/><text class="legs" x="867.3" y="968.7">Neuroactive ligand−receptor interaction</text>
<line class="dash k7" x1="857.7" y1="975" x2="865" y2="975"/><text class="legs" x="867.3" y="978.7">Phospholipase D signaling pathway</text>
<line class="dash k8" x1="857.7" y1="985.7" x2="865" y2="985.7"/><text class="legs" x="867.3" y="989.4">Rap1 signaling pathway</text>
<line class="dash k9" x1="857.7" y1="995.7" x2="865" y2="995.7"/><text class="legs" x="867.3" y="999.4">Steroid hormone biosynthesis</text>
<line class="dash k10" x1="857.7" y1="1006.7" x2="865" y2="1006.7"/><text class="legs" x="867.3" y="1010.4">VEGF signaling pathway</text>
</g>
</svg>
